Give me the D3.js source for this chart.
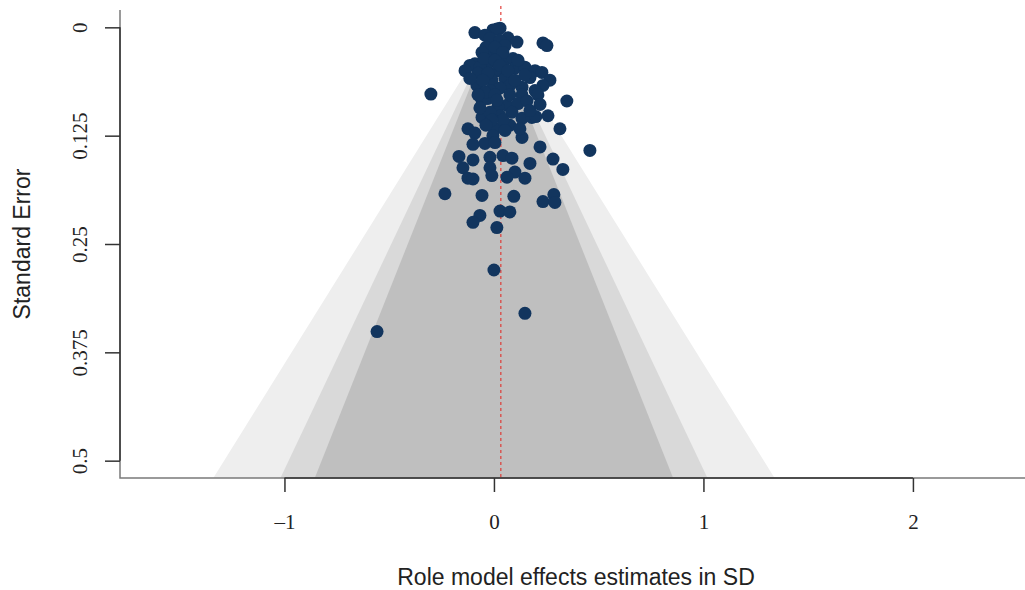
<!DOCTYPE html>
<html>
<head>
<meta charset="utf-8">
<script src="https://cdn.jsdelivr.net/npm/d3@7"></script>
<style>
  html, body { margin: 0; padding: 0; background: #fff; }
  svg { display: block; }
</style>
</head>
<body>
<svg id="chart" width="1025" height="590"></svg>
<script>
// Effect estimates (SD) and standard errors
const effects = [
  -0.091, -0.005, 0.029, 0.014, 0.067, 0.110, 0.234, 0.253, -0.010, -0.019,
  0.019, -0.029, 0.053, 0.091, -0.091, -0.115, -0.067, 0.019, 0.100, 0.148,
  0.196, 0.229, 0.172, 0.267, 0.234, 0.134, -0.081, -0.010, 0.053, 0.196,
  0.134, 0.210, -0.301, 0.348, -0.057, -0.029, 0.062, 0.019, -0.057, 0.134,
  0.181, 0.200, 0.258, 0.076, -0.124, -0.091, 0.005, -0.005, -0.043, 0.134,
  0.315, 0.220, 0.458, -0.100, 0.005, -0.167, -0.100, -0.148, -0.019, -0.019,
  -0.010, 0.043, 0.086, 0.100, 0.062, 0.148, 0.172, 0.282, 0.329, -0.124,
  -0.100, -0.234, -0.057, 0.095, 0.234, 0.286, 0.291, 0.029, 0.076, -0.067,
  -0.100, 0.014, 0.000, 0.148, -0.558,
  -0.043, -0.019, 0.029, 0.053, -0.038, 0.005, -0.057, 0.043, -0.048, 0.005,
  -0.076, -0.029, 0.029, 0.067, 0.076, 0.100, 0.029, -0.019, -0.043, 0.005,
  0.076, 0.115, 0.158, 0.220, 0.172, 0.086, 0.029, -0.019, 0.043, 0.124,
  -0.067, -0.138, -0.115, 0.115, 0.148, -0.053, -0.076, -0.010, 0.014, 0.053,
  -0.038
];
const stdErrors = [
  0.006, 0.003, 0.001, 0.002, 0.012, 0.017, 0.018, 0.021, 0.018, 0.030,
  0.029, 0.042, 0.038, 0.036, 0.042, 0.044, 0.046, 0.050, 0.047, 0.046,
  0.050, 0.052, 0.058, 0.061, 0.067, 0.069, 0.067, 0.061, 0.059, 0.073,
  0.078, 0.078, 0.077, 0.085, 0.084, 0.082, 0.090, 0.092, 0.104, 0.105,
  0.104, 0.103, 0.102, 0.113, 0.117, 0.122, 0.117, 0.125, 0.134, 0.127,
  0.117, 0.138, 0.142, 0.135, 0.133, 0.149, 0.153, 0.162, 0.150, 0.162,
  0.171, 0.148, 0.151, 0.167, 0.173, 0.174, 0.157, 0.152, 0.164, 0.174,
  0.175, 0.192, 0.194, 0.195, 0.201, 0.193, 0.202, 0.212, 0.213, 0.217,
  0.225, 0.231, 0.280, 0.330, 0.351,
  0.009, 0.013, 0.015, 0.021, 0.023, 0.023, 0.029, 0.029, 0.036, 0.038,
  0.053, 0.053, 0.044, 0.050, 0.067, 0.061, 0.070, 0.073, 0.075, 0.078,
  0.078, 0.088, 0.085, 0.089, 0.096, 0.098, 0.102, 0.098, 0.107, 0.117,
  0.093, 0.050, 0.059, 0.038, 0.055, 0.061, 0.078, 0.107, 0.084, 0.119,
  0.113
];
const xTicks = [-1, 0, 1, 2];
const yTicks = [0, 0.125, 0.25, 0.375, 0.5];
const yTickLabels = ["0", "0.125", "0.25", "0.375", "0.5"];
const contourLevels = [0.99, 0.95, 0.90];
const contourFills = ["#eeeeee", "#d9d9d9", "#bfbfbf"];
const pooledEstimate = 0.033;
const seMax = 0.52;

const svg = d3.select("#chart");
const mLeft = 120, mRight = 1025, mTop = 10, mBottom = 478;

const x = d3.scaleLinear().domain([-1.785, 2.535]).range([mLeft, mRight]);
const y = d3.scaleLinear().domain([-0.02, 0.52]).range([mTop, mBottom]);

// inverse normal via rational approximation
const qnorm = p => {
  const a = [-39.6968302866538, 220.946098424521, -275.928510446969, 138.357751867269, -30.6647980661472, 2.50662827745924];
  const b = [-54.4760987982241, 161.585836858041, -155.698979859887, 66.8013118877197, -13.2806815528857];
  const c = [-0.00778489400243029, -0.322396458041136, -2.40075827716184, -2.54973253934373, 4.37466414146497, 2.93816398269878];
  const dd = [0.00778469570904146, 0.32246712907004, 2.445134137143, 3.75440866190742];
  if (p > 0.97575) {
    const q = Math.sqrt(-2 * Math.log(1 - p));
    return -(((((c[0]*q+c[1])*q+c[2])*q+c[3])*q+c[4])*q+c[5]) /
             ((((dd[0]*q+dd[1])*q+dd[2])*q+dd[3])*q+1);
  }
  const q = p - 0.5, r = q * q;
  return (((((a[0]*r+a[1])*r+a[2])*r+a[3])*r+a[4])*r+a[5])*q /
         (((((b[0]*r+b[1])*r+b[2])*r+b[3])*r+b[4])*r+1);
};

// Contour-enhanced funnel regions centred at zero
contourLevels.forEach((lev, i) => {
  const z = qnorm(1 - (1 - lev) / 2);
  const pts = [[0, 0], [-z * seMax, seMax], [z * seMax, seMax]];
  svg.append("path")
    .attr("d", d3.line().x(d => x(d[0])).y(d => y(d[1]))(pts) + "Z")
    .attr("fill", contourFills[i]);
});

// Frame (L shape)
svg.append("path")
  .attr("d", `M${mLeft},${mTop}V${mBottom}H${mRight}`)
  .attr("fill", "none").attr("stroke", "#7a7a7a").attr("stroke-width", 1.5);

// X axis
const xAxis = svg.append("g").attr("transform", `translate(0,${mBottom})`)
  .call(d3.axisBottom(x).tickValues(xTicks).tickSize(14).tickPadding(22)
    .tickFormat(d => d < 0 ? "\u2013" + Math.abs(d) : String(d)));
xAxis.select(".domain").attr("d", `M${x(-1)},0H${x(2)}`).attr("stroke", "#333").attr("stroke-width", 1.5);
xAxis.selectAll(".tick line").attr("stroke", "#333").attr("stroke-width", 1.5);
xAxis.selectAll("text").attr("font-family", "'Liberation Serif', 'Times New Roman', serif")
  .attr("font-size", 21).attr("fill", "#222");

// Y axis
const yAxis = svg.append("g").attr("transform", `translate(${mLeft},0)`)
  .call(d3.axisLeft(y).tickValues(yTicks).tickSize(15)
    .tickFormat((d, i) => yTickLabels[i]));
yAxis.select(".domain").attr("d", `M0,${y(0)}V${y(0.5)}`).attr("stroke", "#333").attr("stroke-width", 1.5);
yAxis.selectAll(".tick line").attr("stroke", "#333").attr("stroke-width", 1.5);
yAxis.selectAll("text")
  .attr("font-family", "'Liberation Serif', 'Times New Roman', serif")
  .attr("font-size", 21).attr("fill", "#222")
  .attr("text-anchor", "middle")
  .attr("x", 0).attr("dy", 0)
  .attr("transform", "translate(-33,0) rotate(-90)");

// Pooled estimate reference line
svg.append("line")
  .attr("x1", x(pooledEstimate)).attr("x2", x(pooledEstimate))
  .attr("y1", mTop - 4).attr("y2", mBottom)
  .attr("stroke", "#e0302a").attr("stroke-width", 1.1).attr("stroke-dasharray", "3,3");

// Points
const data = effects.map((e, i) => ({ e, se: stdErrors[i] }));
svg.append("g").selectAll("circle").data(data).join("circle")
  .attr("cx", d => x(d.e)).attr("cy", d => y(d.se)).attr("r", 6.5)
  .attr("fill", "#12355e");

// Axis titles
svg.append("text")
  .attr("x", 576).attr("y", 585)
  .attr("text-anchor", "middle")
  .attr("font-family", "'Liberation Sans', Arial, sans-serif").attr("font-size", 23)
  .attr("fill", "#222")
  .text("Role model effects estimates in SD");
svg.append("text")
  .attr("transform", `translate(30,${y(0.25)}) rotate(-90)`)
  .attr("text-anchor", "middle")
  .attr("font-family", "'Liberation Sans', Arial, sans-serif").attr("font-size", 23)
  .attr("fill", "#222")
  .text("Standard Error");
</script>
</body>
</html>
